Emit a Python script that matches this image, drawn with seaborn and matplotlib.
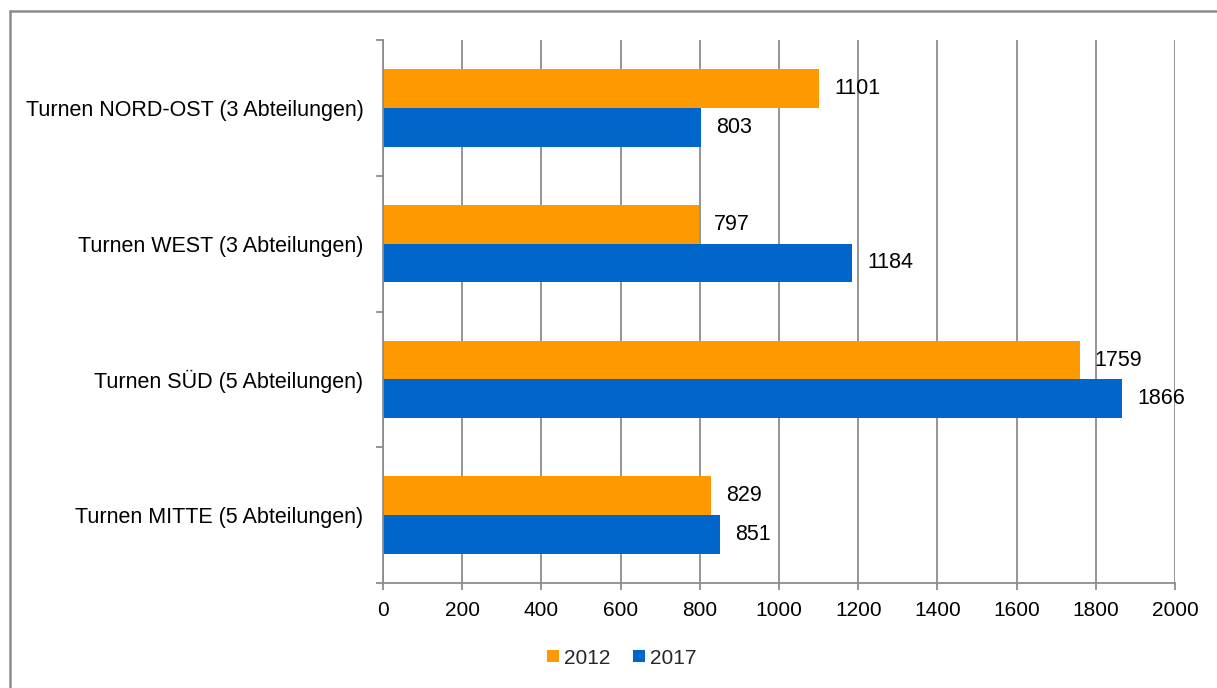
import matplotlib
matplotlib.use("Agg")
import matplotlib.pyplot as plt
import seaborn as sns
import pandas as pd
from matplotlib.lines import Line2D

categories = ["Turnen NORD-OST (3 Abteilungen)", "Turnen WEST (3 Abteilungen)",
              "Turnen SÜD (5 Abteilungen)", "Turnen MITTE (5 Abteilungen)"]
values_2012 = [1101, 797, 1759, 829]
values_2017 = [803, 1184, 1866, 851]
series = ["2012", "2017"]
colors = ["#FF9900", "#0066CC"]
xticks = [0, 200, 400, 600, 800, 1000, 1200, 1400, 1600, 1800, 2000]

sns.set_theme(style="white")
plt.rcParams["font.family"] = ["Liberation Sans", "DejaVu Sans"]

df = pd.DataFrame({
    "cat": categories * 2,
    "val": values_2012 + values_2017,
    "year": [series[0]] * len(categories) + [series[1]] * len(categories),
})

fig = plt.figure(figsize=(12.17, 6.88), dpi=100)
ax = fig.add_axes([383 / 1217, 1 - 583 / 688, (1175 - 383) / 1217, (583 - 40) / 688])
sns.barplot(data=df, y="cat", x="val", hue="year", hue_order=series,
            palette=colors, orient="h", width=0.57, ax=ax, saturation=1,
            linewidth=0, errorbar=None)

for cont in ax.containers:
    ax.bar_label(cont, labels=[f"{int(v)}" for v in cont.datavalues],
                 padding=11, fontsize=15.5, color="#000000")

ax.set_xlim(0, 2000)
ax.set_ylim(3.5, -0.5)
ax.set_xticks(xticks)
ax.set_xticklabels([str(t) for t in xticks], fontsize=15, color="#000000")
ax.xaxis.grid(True, color="#8C8C8C", linewidth=1.3)
ax.set_axisbelow(True)

n = len(categories)
ax.set_yticks([i - 0.5 for i in range(n + 1)])
ax.set_yticklabels([])
ax.set_yticks(list(range(n)), minor=True)
ax.set_yticklabels(categories, minor=True, fontsize=15.5, color="#000000")
ax.tick_params(axis="y", which="major", length=5, width=1.3, color="#8C8C8C", left=True)
ax.tick_params(axis="y", which="minor", length=0, pad=14)
ax.tick_params(axis="x", which="major", length=5, width=1.3, color="#8C8C8C", bottom=True, pad=8)

for s in ["top", "right"]:
    ax.spines[s].set_visible(False)
for s in ["left", "bottom"]:
    ax.spines[s].set_color("#8C8C8C")
    ax.spines[s].set_linewidth(1.3)

ax.set_xlabel("")
ax.set_ylabel("")

ax.legend(loc="center", bbox_to_anchor=(622 / 1217, 1 - 658 / 688),
          bbox_transform=fig.transFigure, ncol=2, frameon=False,
          fontsize=15, handlelength=0.55, handleheight=0.55,
          handletextpad=0.25, columnspacing=1.1, title=None)

fig.add_artist(Line2D([9.5 / 1217, 9.5 / 1217], [0, 1 - 10.5 / 688],
                      transform=fig.transFigure, color="#8C8C8C", linewidth=1.8))
fig.add_artist(Line2D([9.5 / 1217, 1], [1 - 10.5 / 688, 1 - 10.5 / 688],
                      transform=fig.transFigure, color="#8C8C8C", linewidth=1.8))

fig.savefig("out.png", dpi=100)
